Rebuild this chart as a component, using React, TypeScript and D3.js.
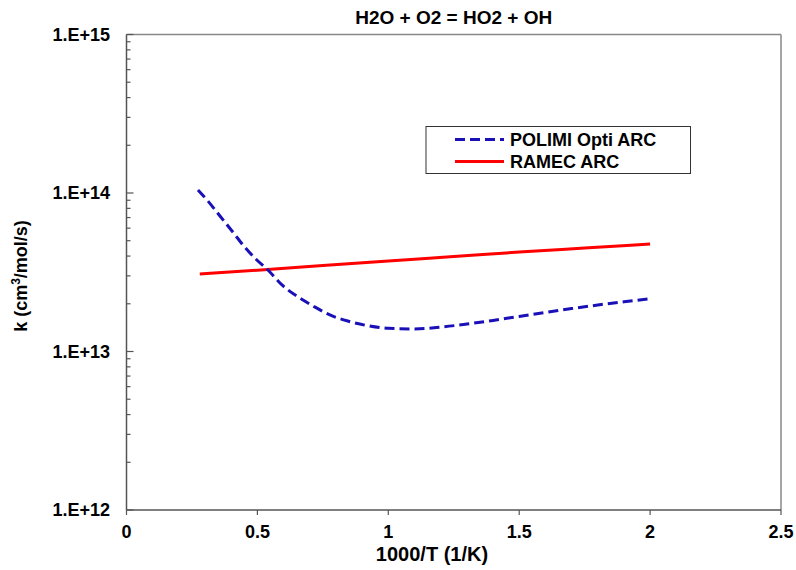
import React from "react";
import * as d3 from "d3";

const xTicks = [0, 0.5, 1, 1.5, 2, 2.5];
const xTickLabels = ["0", "0.5", "1", "1.5", "2", "2.5"];
const yTicks = [1e12, 1e13, 1e14, 1e15];
const yTickLabels = ["1.E+12", "1.E+13", "1.E+14", "1.E+15"];

const polimiX = [0.273, 0.311, 0.357, 0.403, 0.448, 0.494, 0.544, 0.594, 0.655, 0.712, 0.777, 0.845, 0.918, 1.0, 1.1, 1.2, 1.3, 1.4, 1.5, 1.6, 1.7, 1.8, 1.9, 2.0];
const polimiK = [1.045e14, 8.9e13, 7.16e13, 5.76e13, 4.63e13, 3.83e13, 3.22e13, 2.63e13, 2.21e13, 1.94e13, 1.7e13, 1.557e13, 1.459e13, 1.4e13, 1.387e13, 1.425e13, 1.49e13, 1.57e13, 1.665e13, 1.765e13, 1.865e13, 1.965e13, 2.06e13, 2.15e13];

const ramecX = [0.28, 0.5, 0.75, 1.0, 1.25, 1.5, 1.75, 2.0];
const ramecK = [3.08e13, 3.26e13, 3.49e13, 3.73e13, 3.97e13, 4.24e13, 4.5e13, 4.77e13];

const title = "H2O + O2 = HO2 + OH";
const seriesNames = ["POLIMI Opti ARC", "RAMEC ARC"];

const W = 796, H = 570;
const L = 126.5, R = 781, T = 34.5, B = 510;
const FONT = "Arial, 'Liberation Sans', sans-serif";

export default function App() {
  const x = d3.scaleLinear().domain([0, 2.5]).range([L, R]);
  const y = d3.scaleLog().domain([1e12, 1e15]).range([B, T]);
  const line = d3
    .line<[number, number]>()
    .x((d) => x(d[0]))
    .y((d) => y(d[1]))
    .curve(d3.curveMonotoneX);
  const polimi = polimiX.map((v, i) => [v, polimiK[i]] as [number, number]);
  const ramec = ramecX.map((v, i) => [v, ramecK[i]] as [number, number]);

  const minor: number[] = [];
  for (let e = 12; e < 15; e++) for (let m = 2; m <= 9; m++) minor.push(m * Math.pow(10, e));

  return (
    <svg width={W} height={H} style={{ position: "absolute", left: 0, top: 0, background: "#fff" }} fontFamily={FONT}>
      <rect x={0} y={0} width={W} height={H} fill="#fff" />
      <text x={(L + R) / 2} y={24} textAnchor="middle" fontSize={19} fontWeight="bold">{title}</text>
      {/* frame */}
      <line x1={L} y1={T} x2={R} y2={T} stroke="#888" strokeWidth={1.5} />
      <line x1={R} y1={T} x2={R} y2={B} stroke="#888" strokeWidth={1.5} />
      <line x1={L} y1={T} x2={L} y2={B} stroke="#555" strokeWidth={1.5} />
      <line x1={L} y1={B} x2={R} y2={B} stroke="#555" strokeWidth={1.5} />
      {/* y minor ticks */}
      {minor.map((v, i) => (
        <line key={"m" + i} x1={L} x2={L + 4} y1={y(v)} y2={y(v)} stroke="#555" strokeWidth={1.2} />
      ))}
      {yTicks.map((v, i) => (
        <g key={"y" + i}>
          <line x1={L} x2={L + 7} y1={y(v)} y2={y(v)} stroke="#555" strokeWidth={1.2} />
          <text x={110} y={y(v)} dy="0.35em" textAnchor="end" fontSize={18} fontWeight="bold">{yTickLabels[i]}</text>
        </g>
      ))}
      {xTicks.map((v, i) => (
        <g key={"x" + i}>
          <line x1={x(v)} x2={x(v)} y1={B} y2={B + 5} stroke="#555" strokeWidth={1.2} />
          <text x={x(v)} y={538} textAnchor="middle" fontSize={18} fontWeight="bold">{xTickLabels[i]}</text>
        </g>
      ))}
      <text x={432} y={561} textAnchor="middle" fontSize={20} fontWeight="bold">1000/T (1/K)</text>
      <text transform={`translate(27,276) rotate(-90)`} textAnchor="middle" fontSize={18} fontWeight="bold">
        k (cm<tspan dy={-7} fontSize={12}>3</tspan><tspan dy={7}>/mol/s)</tspan>
      </text>
      {/* data */}
      <path d={line(ramec) || ""} fill="none" stroke="#ff0000" strokeWidth={3} />
      <path d={line(polimi) || ""} fill="none" stroke="#1a10b8" strokeWidth={3} strokeDasharray="10,5" />
      {/* legend */}
      <rect x={426} y={126.5} width={264.5} height={47} fill="#fff" stroke="#333" strokeWidth={1} />
      <line x1={455} x2={504} y1={139.5} y2={139.5} stroke="#1a10b8" strokeWidth={3} strokeDasharray="10,5" />
      <text x={510} y={139.5} dy="0.35em" fontSize={18} fontWeight="bold">{seriesNames[0]}</text>
      <line x1={455} x2={504} y1={161.5} y2={161.5} stroke="#ff0000" strokeWidth={3} />
      <text x={510} y={161.5} dy="0.35em" fontSize={18} fontWeight="bold">{seriesNames[1]}</text>
    </svg>
  );
}
